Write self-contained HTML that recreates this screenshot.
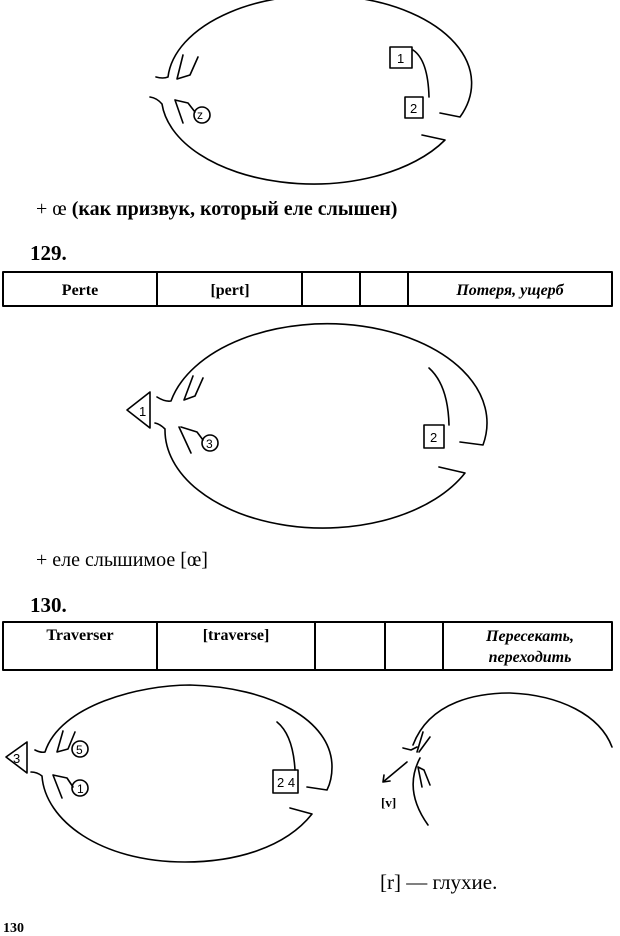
<!DOCTYPE html>
<html><head><meta charset="utf-8"><style>
html,body{margin:0;padding:0;background:#fff;}
svg{display:block;}
text{font-family:"Liberation Serif","DejaVu Serif",serif;fill:#000;}
text.s{font-family:"Liberation Sans","DejaVu Sans",sans-serif;}
</style></head><body>
<svg width="620" height="936" viewBox="0 0 620 936" xmlns="http://www.w3.org/2000/svg">
<g fill="none" stroke="#000" stroke-width="1.6" stroke-linecap="round" stroke-linejoin="round">
<!-- Diagram 1 -->
<path d="M156,77 Q163,79 168,77 A152,88 0 1,1 460,117 L440,113"/>
<path d="M422,135 L445,140 A152,88 0 0,1 162,104 Q157,98 150,97"/>
<path d="M183,55 L177,79 L190,75 L198,57"/>
<path d="M175,100 L183,123 M175,100 L188,103 L195,112"/>
<circle cx="202" cy="115" r="8"/>
<path d="M413,50 Q428,60 429,97"/>
<rect x="390" y="47" width="22" height="21"/>
<rect x="405" y="97" width="18" height="21"/>
<!-- Diagram 2 -->
<path d="M157,397 Q165,402 171,401 A158,98 0 1,1 483,445 L460,442"/>
<path d="M439,467 L465,473 A158,98 0 0,1 165,429 Q160,424 155,423"/>
<path d="M127,410 L150,392 L150,428 Z"/>
<path d="M193,376 L184,400 L195,396 L203,378"/>
<path d="M179,427 L191,453 M181,427 L197,432 L203,440"/>
<circle cx="210" cy="443" r="8"/>
<path d="M429,368 Q448,385 449,425"/>
<rect x="424" y="425" width="20" height="23"/>
<!-- Diagram 3 -->
<path d="M35,750 Q41,753 45,752 C60,705 140,685 190,685 C270,687 332,720 332,767 Q332,780 327,790 L307,787"/>
<path d="M290,808 L312,814 C285,848 235,862 185,862 C100,862 45,820 42,776 Q37,772 31,772"/>
<path d="M6,757 L27,742 L27,773 Z"/>
<path d="M63,731 L57,752 L68,749 L75,732"/>
<path d="M53,775 L62,798 M53,775 L67,778 L73,787"/>
<circle cx="80" cy="749" r="8"/>
<circle cx="80" cy="788" r="8"/>
<path d="M277,722 Q293,735 295,770"/>
<rect x="273" y="770" width="25" height="23"/>
<!-- right partial -->
<path d="M413,745 C430,700 480,693 510,693 C560,695 600,715 612,747"/>
<path d="M403,748 L411,750 L417,747"/>
<path d="M423,732 L417,752 M430,737 L419,752"/>
<path d="M407,762 L383,782 M383,782 L384,775 M383,782 L390,781"/>
<path d="M420,758 Q403,790 428,825"/>
<path d="M418,767 L422,787 M418,767 L424,770 L430,785"/>
<!-- Table 1 -->
<rect x="3" y="272" width="609" height="34" stroke-width="2"/>
<path d="M157,272V306M302,272V306M360,272V306M408,272V306" stroke-width="2"/>
<!-- Table 2 -->
<rect x="3" y="622" width="609" height="48" stroke-width="2"/>
<path d="M157,622V670M315,622V670M385,622V670M443,622V670" stroke-width="2"/>
</g>
<g font-size="13">
<text class="s" x="397" y="63">1</text>
<text class="s" x="410" y="113">2</text>
<text class="s" x="197" y="119" font-size="12">z</text>
<text class="s" x="139" y="416">1</text>
<text class="s" x="430" y="442">2</text>
<text class="s" x="206" y="448" font-size="12">3</text>
<text class="s" x="13" y="763">3</text>
<text class="s" x="76" y="754" font-size="12">5</text>
<text class="s" x="77" y="793" font-size="12">1</text>
<text class="s" x="277" y="787">2 4</text>
</g>
<text x="36" y="215" font-size="20">+ œ <tspan font-weight="bold">(как призвук, который еле слышен)</tspan></text>
<text x="30" y="260" font-size="21" font-weight="bold">129.</text>
<text x="80" y="295" font-size="16" font-weight="bold" text-anchor="middle">Perte</text>
<text x="230" y="295" font-size="16" font-weight="bold" text-anchor="middle">[pert]</text>
<text x="510" y="295" font-size="16" font-weight="bold" font-style="italic" text-anchor="middle">Потеря, ущерб</text>
<text x="36" y="566" font-size="20">+ еле слышимое [œ]</text>
<text x="30" y="612" font-size="21" font-weight="bold">130.</text>
<text x="80" y="640" font-size="16" font-weight="bold" text-anchor="middle">Traverser</text>
<text x="236" y="640" font-size="16" font-weight="bold" text-anchor="middle">[traverse]</text>
<text x="530" y="641" font-size="16" font-weight="bold" font-style="italic" text-anchor="middle">Пересекать,</text>
<text x="530" y="662" font-size="16" font-weight="bold" font-style="italic" text-anchor="middle">переходить</text>
<text x="381" y="807" font-size="13" font-weight="bold">[v]</text>
<text x="380" y="889" font-size="21">[r] — глухие.</text>
<text x="3" y="932" font-size="14" font-weight="bold">130</text>
</svg>
</body></html>
